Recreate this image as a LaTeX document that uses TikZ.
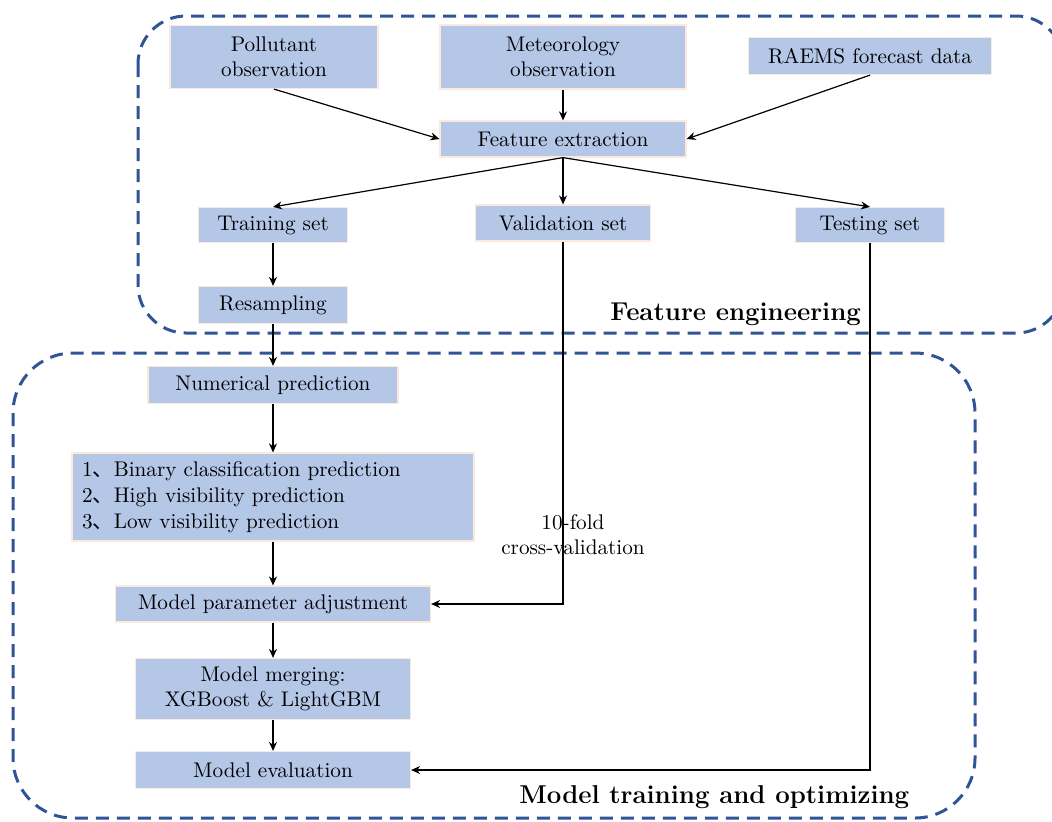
\documentclass[tikz,border=0pt]{standalone}
\usepackage{fontspec}
\newfontfamily\cjk{Noto Sans CJK SC}
\usetikzlibrary{arrows.meta}
\definecolor{boxblue}{HTML}{B4C7E7}
\definecolor{boxedge}{HTML}{FCE9DD}
\definecolor{dashblue}{HTML}{2F5597}
\begin{document}
\begin{tikzpicture}[x=0.5pt,y=-0.5pt,
  box/.style={fill=boxblue, draw=boxedge, line width=0.6pt, inner sep=0pt, align=center, font=\fontsize{10.6}{12.5}\selectfont},
  arr/.style={-{Stealth[length=4.5pt,width=4pt]}, line width=0.6pt},
  region/.style={draw=dashblue, line width=1.5pt, dash pattern=on 6.5pt off 4pt},
  regtitle/.style={font=\fontsize{12.9}{15}\selectfont\bfseries, inner sep=0pt},
  lbl/.style={font=\fontsize{10.6}{12.5}\selectfont, align=center, inner sep=0pt}
]
\useasboundingbox (0,0) rectangle (1052,821);
\begin{scope}
\clip (0,0) rectangle (1052,821);
\draw[region, rounded corners=24pt] (138,16) rectangle (1064,333);
\draw[region, rounded corners=30pt] (13,353) rectangle (975,818);
\end{scope}

\node[box, minimum width=104pt, minimum height=31.5pt] (pol) at (274,57) {Pollutant\\observation};
\node[box, minimum width=123pt, minimum height=32pt] (met) at (563,57) {Meteorology\\observation};
\node[box, minimum width=121.5pt, minimum height=18.5pt] (rae) at (870,56) {RAEMS forecast data};
\node[box, minimum width=123pt, minimum height=18pt] (fe) at (563,139) {Feature extraction};
\node[box, minimum width=74.5pt, minimum height=17.5pt] (tr) at (273,225) {Training set};
\node[box, minimum width=87.5pt, minimum height=18pt] (va) at (563,223) {Validation set};
\node[box, minimum width=74.5pt, minimum height=17.5pt] (te) at (870,225) {Testing set};
\node[box, minimum width=74.5pt, minimum height=18.5pt] (rs) at (273,305) {Resampling};
\node[box, minimum width=125pt, minimum height=18.5pt] (np) at (273,385) {Numerical prediction};
\node[box, text width=191pt, inner xsep=5pt, minimum height=44pt, align=left, font=\fontsize{10.6}{13}\selectfont] (cl) at (273,497) {1{\cjk 、}Binary classification prediction\\2{\cjk 、}High visibility prediction\\3{\cjk 、}Low visibility prediction};
\node[box, minimum width=157.5pt, minimum height=18pt] (mpa) at (273,604) {Model parameter adjustment};
\node[box, minimum width=137.5pt, minimum height=30.5pt] (mg) at (273,689) {Model merging:\\XGBoost \& LightGBM};
\node[box, minimum width=137.5pt, minimum height=18.5pt] (ev) at (273,770) {Model evaluation};

\draw[arr] (pol.south) -- (fe.west);
\draw[arr] (met.south) -- (fe.north);
\draw[arr] (rae.south) -- (fe.east);
\draw[arr] (fe.south) -- (tr.north);
\draw[arr] (fe.south) -- (va.north);
\draw[arr] (fe.south) -- (te.north);
\draw[arr] (tr) -- (rs);
\draw[arr] (rs) -- (np);
\draw[arr] (np) -- (cl);
\draw[arr] (cl) -- (mpa);
\draw[arr] (mpa) -- (mg);
\draw[arr] (mg) -- (ev);
\draw[arr] (va.south) |- (mpa.east);
\draw[arr] (te.south) |- (ev.east);

\node[lbl] (cv) at (573,535) {10-fold\\cross-validation};
\node[regtitle, anchor=base west] (fet) at (610,320) {Feature engineering};
\node[regtitle, anchor=base west] (mto) at (519,803) {Model training and optimizing};
\end{tikzpicture}
\end{document}
